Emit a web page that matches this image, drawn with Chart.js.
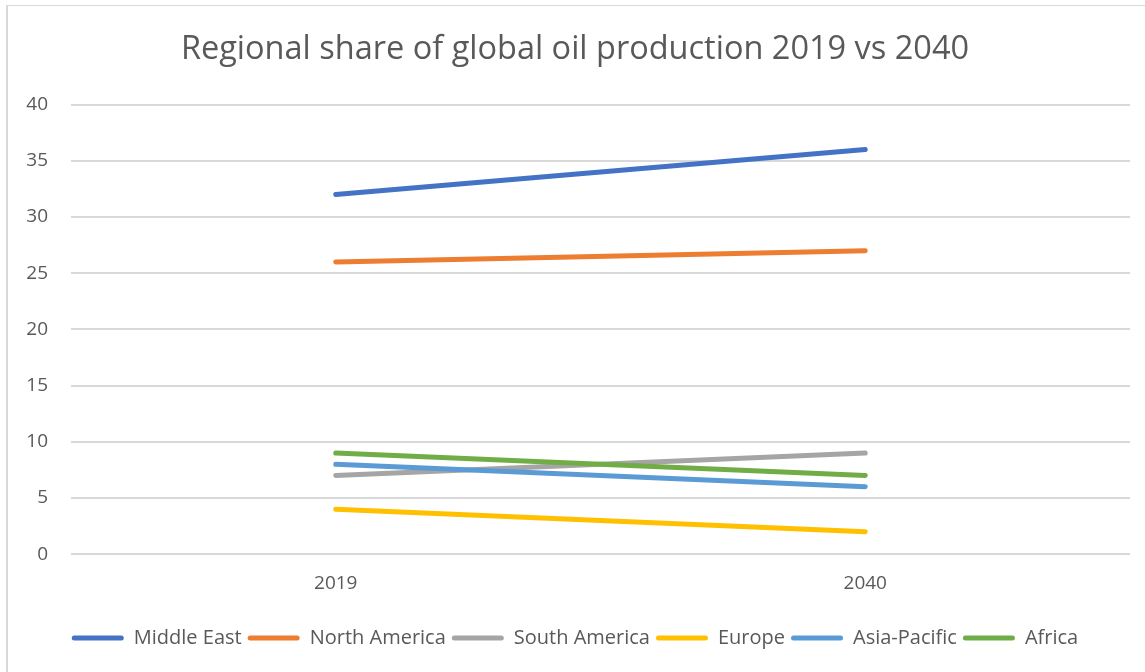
<!DOCTYPE html>
<html>
<head>
<meta charset="utf-8">
<script src="https://cdn.jsdelivr.net/npm/chart.js@4/dist/chart.umd.min.js"></script>
<style>
  html, body { margin: 0; padding: 0; background: #fff; }
  #wrap { position: relative; width: 1145px; height: 672px; }
  #frame {
    position: absolute; left: 6px; top: 5px; right: 0; bottom: 0;
    border-top: 1px solid #d9d9d9; border-left: 2px solid #d9d9d9;
    pointer-events: none;
  }
  canvas { position: absolute; left: 0; top: 0; }
</style>
</head>
<body>
<div id="wrap">
  <canvas id="oilChart" width="1145" height="672"></canvas>
  <div id="frame"></div>
</div>
<script>
// Share of global oil production (%)
const years = ['2019', '2040'];
const middleEast = [32, 36];
const northAmerica = [26, 27];
const southAmerica = [7, 9];
const europe = [4, 2];
const asiaPacific = [8, 6];
const africa = [9, 7];

const textColor = '#595959';
const gridColor = '#d9d9d9';
const fontFamily = '"Open Sans", sans-serif';

function series(label, data, color, i) {
  return {
    label: label,
    data: data,
    borderColor: color,
    backgroundColor: color,
    borderWidth: 5,
    borderCapStyle: 'round',
    borderJoinStyle: 'round',
    pointRadius: 0,
    tension: 0,
    order: -i
  };
}

const ctx = document.getElementById('oilChart').getContext('2d');
const oilChart = new Chart(ctx, {
  type: 'line',
  data: {
    labels: years,
    datasets: [
      series('Middle East', middleEast, '#4472C4', 0),
      series('North America', northAmerica, '#ED7D31', 1),
      series('South America', southAmerica, '#A5A5A5', 2),
      series('Europe', europe, '#FFC000', 3),
      series('Asia-Pacific', asiaPacific, '#5B9BD5', 4),
      series('Africa', africa, '#70AD47', 5)
    ]
  },
  options: {
    responsive: false,
    animation: false,
    layout: { padding: { left: 20, right: 15, top: 0, bottom: 14 } },
    plugins: {
      title: {
        display: true,
        text: 'Regional share of global oil production 2019 vs 2040',
        color: textColor,
        font: { family: fontFamily, size: 32.5, weight: 'normal', lineHeight: 1.2 },
        padding: { top: 29.8, bottom: 35.7 }
      },
      legend: {
        position: 'bottom',
        labels: {
          color: textColor,
          font: { family: fontFamily, size: 20 },
          boxWidth: 52,
          boxHeight: 5,
          padding: 6,
          useBorderRadius: true,
          borderRadius: 2.5,
          sort: (a, b) => a.datasetIndex - b.datasetIndex,
          generateLabels: (chart) =>
            Chart.defaults.plugins.legend.labels.generateLabels(chart).map(item => {
              item.lineWidth = 0;
              return item;
            })
        }
      },
      tooltip: { enabled: false }
    },
    scales: {
      x: {
        offset: true,
        // leave extra room between the year labels and the legend
        afterFit: (scale) => { scale.height += 9; },
        grid: { display: false, drawTicks: false },
        border: { display: false },
        ticks: {
          color: textColor,
          font: { family: fontFamily, size: 19 },
          padding: 18
        }
      },
      y: {
        min: 0,
        max: 40,
        // plot area starts at x = 71
        afterFit: (scale) => { scale.width = 51; },
        grid: { color: gridColor, lineWidth: 2, drawTicks: false },
        border: { display: false },
        ticks: {
          stepSize: 5,
          color: textColor,
          font: { family: fontFamily, size: 19 },
          padding: 23
        }
      }
    }
  }
});
</script>
</body>
</html>
